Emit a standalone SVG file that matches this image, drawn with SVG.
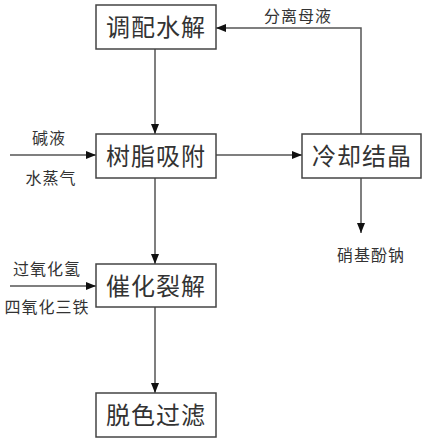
<svg xmlns="http://www.w3.org/2000/svg" width="427" height="444" viewBox="0 0 427 444">
<style>
.box{fill:#fff;stroke:#444;stroke-width:1.5}
.bt{font-family:"Noto Sans CJK SC","Noto Sans CJK JP",sans-serif;font-size:24px;fill:#333;text-anchor:middle;letter-spacing:1px}
.lt{font-family:"Noto Sans CJK SC","Noto Sans CJK JP",sans-serif;font-size:16px;fill:#333;text-anchor:middle;letter-spacing:1px}
.ln{fill:none;stroke:#555;stroke-width:1.5}
</style>
<defs>
<marker id="ar" viewBox="0 0 10 8" refX="10" refY="4" markerWidth="10" markerHeight="8" markerUnits="userSpaceOnUse" orient="auto">
<path d="M0,0 L10,4 L0,8 Z" fill="#111"/>
</marker>
</defs>
<rect width="427" height="444" fill="#fff"/>
<g id="connectors">
<line class="ln" x1="155" y1="49" x2="155" y2="134" marker-end="url(#ar)"/>
<line class="ln" x1="155" y1="178" x2="155" y2="264" marker-end="url(#ar)"/>
<line class="ln" x1="155" y1="307" x2="155" y2="393" marker-end="url(#ar)"/>
<line class="ln" x1="216" y1="155" x2="302" y2="155" marker-end="url(#ar)"/>
<line class="ln" x1="10" y1="155" x2="96" y2="155" marker-end="url(#ar)"/>
<line class="ln" x1="10" y1="286" x2="96" y2="286" marker-end="url(#ar)"/>
<polyline class="ln" points="361,134 361,28 216,28" marker-end="url(#ar)"/>
<line class="ln" x1="361" y1="178" x2="361" y2="233" marker-end="url(#ar)"/>
<text class="lt" x="298" y="22">分离母液</text>
<text class="lt" x="49" y="144">碱液</text>
<text class="lt" x="51" y="184">水蒸气</text>
<text class="lt" x="47" y="275">过氧化氢</text>
<text class="lt" x="47" y="313">四氧化三铁</text>
<text class="lt" x="371" y="261">硝基酚钠</text>
</g>
<g id="n1"><rect class="box" x="96" y="5" width="120" height="44"/><text class="bt" x="156" y="36">调配水解</text></g>
<g id="n2"><rect class="box" x="96" y="134" width="120" height="44"/><text class="bt" x="156" y="165">树脂吸附</text></g>
<g id="n3"><rect class="box" x="302" y="134" width="119" height="44"/><text class="bt" x="362" y="165">冷却结晶</text></g>
<g id="n4"><rect class="box" x="96" y="264" width="120" height="43"/><text class="bt" x="156" y="295">催化裂解</text></g>
<g id="n5"><rect class="box" x="96" y="393" width="120" height="44"/><text class="bt" x="156" y="424">脱色过滤</text></g>
</svg>
